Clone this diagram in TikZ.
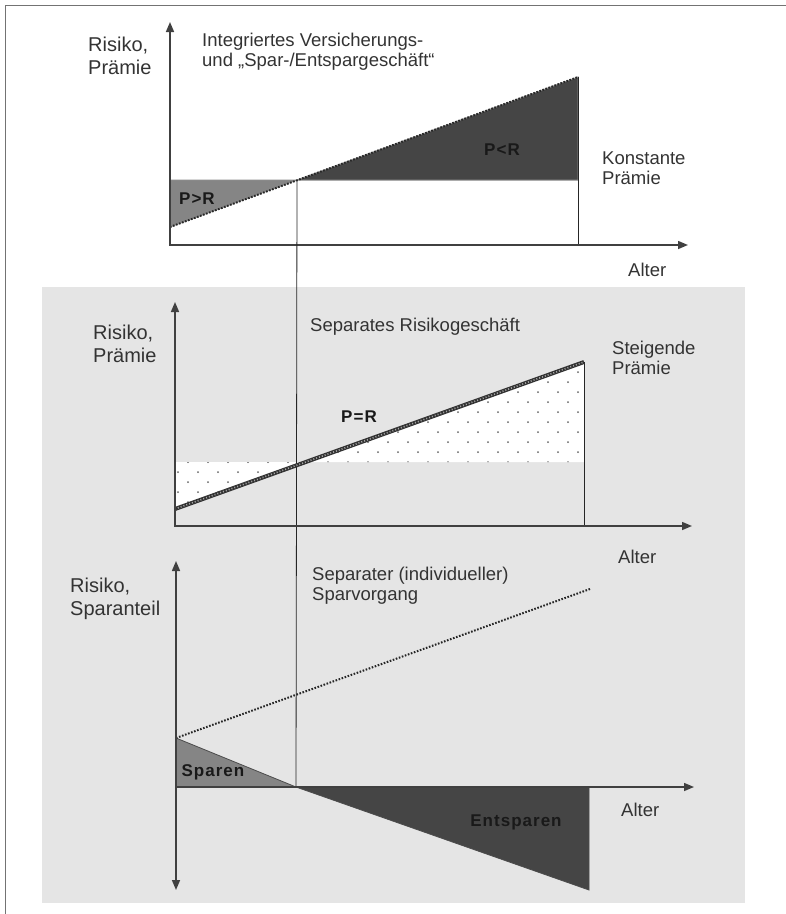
\documentclass[tikz,border=0pt]{standalone}
\usepackage{fontspec}
\setmainfont{Liberation Sans}
\usetikzlibrary{arrows.meta}

\definecolor{hgrau}{gray}{0.90}
\definecolor{mgrau}{gray}{0.52}
\definecolor{dgrau}{gray}{0.27}

\tikzset{
  achse/.style={draw=black!75, line width=1.5pt, line join=miter},
  pfeil/.tip={Triangle[length=10pt,width=8pt]},
  hilfslinie/.style={draw=black!85, line width=0.8pt},
  punktlinie/.style={draw=black!85, line width=2pt, dash pattern=on 1.6pt off 1.6pt},
  achsentext/.style={anchor=north west, inner sep=0pt, align=left, font=\fontsize{20}{23}\selectfont, text=black!80},
  beschriftung/.style={anchor=north west, inner sep=0pt, align=left, font=\fontsize{18.5}{19.5}\selectfont, text=black!80},
  flaechentext/.style={inner sep=0pt, font=\fontsize{17}{18}\selectfont\bfseries\addfontfeature{LetterSpace=6}, text=black!90},
}

\begin{document}
\begin{tikzpicture}[x=1pt, y=-1pt]
\useasboundingbox (0,0) rectangle (786,914);

% Rahmen und grauer Hintergrund
\draw[black!55, line width=1pt] (5,914) -- (5,5) -- (786,5);
\fill[hgrau] (42,287) rectangle (745,903);

% Oberes Diagramm: integriertes Geschaeft
\coordinate (O1) at (170,245);
\coordinate (Y1) at (170,22);
\coordinate (X1) at (688,245);
\coordinate (K1) at (297,180);
\coordinate (S1) at (170,227);
\coordinate (E1) at (578,77);

\filldraw[fill=mgrau, draw=black!45, line width=1pt] (170,180) -- (K1) -- (S1) -- cycle;
\filldraw[fill=dgrau, draw=black!45, line width=1pt] (K1) -- (578,180) -- (E1) -- cycle;
\draw[hilfslinie] (E1) -- (578,245);
\draw[punktlinie] (S1) -- (E1);
\draw[achse, arrows={pfeil-pfeil}] (Y1) -- (O1) -- (X1);

\node[achsentext] (risiko1) at (88,37) {Risiko,\\Prämie};
\node[beschriftung] (titel1) at (202,33) {Integriertes Versicherungs-\\und „Spar-/Entspargeschäft“};
\node[beschriftung] (konstant) at (602,152) {Konstante\\Prämie};
\node[beschriftung] (alter1) at (628,263) {Alter};
\node[flaechentext] (pgr) at (197,199) {P>R};
\node[flaechentext] (pkl) at (502,150) {P<R};

% Mittleres Diagramm: separates Risikogeschaeft
\coordinate (O2) at (175,526);
\coordinate (Y2) at (175,302);
\coordinate (X2) at (692,526);
\coordinate (S2) at (175,509);
\coordinate (E2) at (584,362);

\fill[white] (175,462) -- (584,462) -- (E2) -- (S2) -- cycle;
\begin{scope}
  \clip (175,462) -- (584,462) -- (E2) -- (S2) -- cycle;
  \foreach \r in {-10,...,5}
    \foreach \k in {0,...,21}
      \fill[black!60] ({168+10*mod(\r+20,2)+20*\k},{462+10*\r}) circle (1pt);
\end{scope}
\draw[hilfslinie] (E2) -- (584,526);
\draw[hilfslinie] (K1) -- (296,787);
\draw[line width=4pt, black!80] (S2) -- (E2);
\draw[line width=1.6pt, black!35, dash pattern=on 1pt off 2pt] (S2) -- (E2);
\draw[achse, arrows={pfeil-pfeil}] (Y2) -- (O2) -- (X2);

\node[achsentext] (risiko2) at (93,325) {Risiko,\\Prämie};
\node[beschriftung] (titel2) at (310,318) {Separates Risikogeschäft};
\node[beschriftung] (steigend) at (612,341) {Steigende\\Prämie};
\node[beschriftung] (alter2) at (618,550) {Alter};
\node[flaechentext] (pgleich) at (359,417) {P=R};

% Unteres Diagramm: Sparvorgang
\coordinate (O3) at (176,787);
\coordinate (Y3) at (176,561);
\coordinate (U3) at (176,890);
\coordinate (X3) at (694,787);
\coordinate (S3) at (176,738);
\coordinate (N3) at (296,787);
\coordinate (E3) at (590,589);

\filldraw[fill=mgrau, draw=black!70, line width=0.8pt] (S3) -- (O3) -- (N3) -- cycle;
\filldraw[fill=dgrau, draw=black!70, line width=0.8pt] (N3) -- (589,787) -- (589,890) -- cycle;
\draw[punktlinie] (S3) -- (E3);
\draw[achse, arrows={pfeil-pfeil}] (Y3) -- (U3);
\draw[achse, arrows={-pfeil}] (O3) -- (X3);

\node[achsentext] (risiko3) at (70,578) {Risiko,\\Sparanteil};
\node[beschriftung] (titel3) at (312,567) {Separater (individueller)\\Sparvorgang};
\node[beschriftung] (alter3) at (621,803) {Alter};
\node[flaechentext] (sparen) at (213,772) {Sparen};
\node[flaechentext] (entsparen) at (516,822) {Entsparen};

\end{tikzpicture}
\end{document}
